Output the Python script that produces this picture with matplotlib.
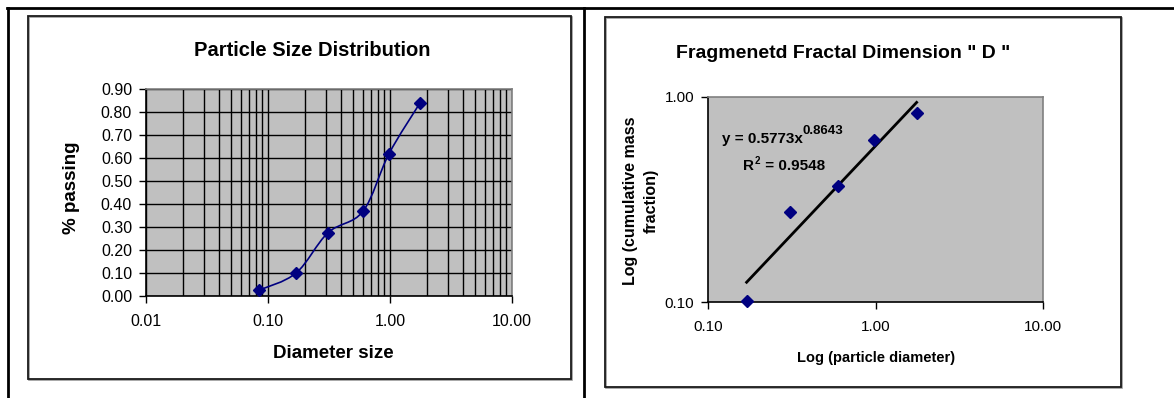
import numpy as np
import matplotlib
matplotlib.use("Agg")
import matplotlib.pyplot as plt
from matplotlib.path import Path
from matplotlib.patches import PathPatch, Rectangle
from matplotlib.lines import Line2D
from matplotlib.ticker import FixedLocator, FuncFormatter, NullFormatter

plt.rcParams['font.family'] = ['Liberation Sans', 'DejaVu Sans']

# particle size distribution
diameter = [0.085, 0.17, 0.31, 0.60, 0.98, 1.76]
passing = [0.026, 0.10, 0.275, 0.368, 0.618, 0.839]

# fractal dimension (log-log)
frac_diameter = [0.17, 0.31, 0.60, 0.98, 1.76]
frac_mass = [0.101, 0.275, 0.366, 0.618, 0.840]
fit_a = 0.5773
fit_b = 0.8643
fit_r2 = 0.9548

W, H = 1174, 398
fig = plt.figure(figsize=(W / 100, H / 100), dpi=100)
fig.patch.set_facecolor("white")


def fx(px):
    return px / W


def fy(py):
    return 1 - py / H


def box(x0, y0, x1, y1):
    # chart area frame with a faint shadow
    fig.add_artist(Rectangle((fx(x0) + 1 / W, fy(y1) - 1 / H), fx(x1) - fx(x0), fy(y0) - fy(y1),
                             transform=fig.transFigure, fill=False, edgecolor="#9a9a9a", lw=1.2))
    fig.add_artist(Rectangle((fx(x0), fy(y1)), fx(x1) - fx(x0), fy(y0) - fy(y1),
                             transform=fig.transFigure, fill=False, edgecolor="#1a1a1a", lw=1.3))


# page table lines
fig.add_artist(Line2D([fx(7), 1], [fy(8), fy(8)], transform=fig.transFigure, color="black", lw=2))
fig.add_artist(Line2D([fx(7.5), fx(7.5)], [fy(8), 0], transform=fig.transFigure, color="black", lw=2))
fig.add_artist(Line2D([fx(584), fx(584)], [fy(8), 0], transform=fig.transFigure, color="black", lw=2))

box(28, 16, 571, 379)
box(605, 17, 1121, 387)

fmt2 = FuncFormatter(lambda v, p: "%.2f" % v)


def style_axes(ax):
    ax.set_facecolor("#c0c0c0")
    for s in ["top", "right"]:
        ax.spines[s].set_color("#808080")
        ax.spines[s].set_linewidth(1.2)
    for s in ["left", "bottom"]:
        ax.spines[s].set_color("black")
        ax.spines[s].set_linewidth(1.2)


# ---- left chart ----
ax1 = fig.add_axes([fx(146), fy(296), fx(512) - fx(146), fy(89) - fy(296)])
style_axes(ax1)
ax1.set_xscale("log")
ax1.set_xlim(0.01, 10)
ax1.set_ylim(0, 0.9)
ax1.xaxis.set_major_locator(FixedLocator([0.01, 0.1, 1, 10]))
ax1.xaxis.set_major_formatter(fmt2)
ax1.xaxis.set_minor_formatter(NullFormatter())
ax1.set_yticks(np.arange(0, 0.91, 0.1))
ax1.yaxis.set_major_formatter(fmt2)
ax1.grid(True, which="both", axis="x", color="black", lw=1)
ax1.grid(True, which="major", axis="y", color="black", lw=1)
ax1.set_axisbelow(True)
ax1.tick_params(axis="x", which="major", direction="out", length=5, width=1, labelsize=11.5, pad=8)
ax1.tick_params(axis="x", which="minor", length=0)
ax1.tick_params(axis="y", direction="out", length=5, width=1, labelsize=11.5, pad=5)

# smoothed line (bezier through the points, in log-x space)
lx = np.log10(diameter)
py = np.array(passing)
pts = np.column_stack([lx, py])
ext = np.vstack([pts[0], pts, pts[-1]])
verts = [pts[0]]
codes = [Path.MOVETO]
for i in range(len(pts) - 1):
    p0, p1, p2, p3 = ext[i], ext[i + 1], ext[i + 2], ext[i + 3]
    c1 = p1 + (p2 - p0) / 6
    c2 = p2 - (p3 - p1) / 6
    verts += [c1, c2, p2]
    codes += [Path.CURVE4] * 3
verts = np.array(verts)
verts[:, 0] = 10 ** verts[:, 0]
ax1.add_patch(PathPatch(Path(verts, codes), facecolor="none", edgecolor="#000080", lw=1.2, zorder=3))
ax1.plot(diameter, passing, linestyle="none", marker="D", markersize=6.5,
         color="#000080", zorder=4, clip_on=False)

fig.text(fx(312), fy(51), "Particle Size Distribution", ha="center", va="center",
         fontsize=14.5, fontweight="bold")
fig.text(fx(71), fy(188), "% passing", ha="center", va="center", rotation=90,
         fontsize=13.5, fontweight="bold")
fig.text(fx(333), fy(353), "Diameter size", ha="center", va="center",
         fontsize=13.5, fontweight="bold")

# ---- right chart ----
ax2 = fig.add_axes([fx(708), fy(302), fx(1043) - fx(708), fy(97) - fy(302)])
style_axes(ax2)
ax2.set_xscale("log")
ax2.set_yscale("log")
ax2.set_xlim(0.1, 10)
ax2.set_ylim(0.1, 1)
ax2.xaxis.set_major_locator(FixedLocator([0.1, 1, 10]))
ax2.yaxis.set_major_locator(FixedLocator([0.1, 1]))
ax2.xaxis.set_major_formatter(fmt2)
ax2.yaxis.set_major_formatter(fmt2)
ax2.xaxis.set_minor_locator(FixedLocator([]))
ax2.yaxis.set_minor_locator(FixedLocator([]))
ax2.tick_params(axis="x", direction="out", length=5, width=1, labelsize=11, pad=8)
ax2.tick_params(axis="y", direction="out", length=5, width=1, labelsize=11, pad=5)

fit_x = np.array([frac_diameter[0], frac_diameter[-1]])
fit_xs = np.geomspace(fit_x[0], fit_x[1], 50)
ax2.plot(fit_xs, fit_a * fit_xs ** fit_b, color="black", lw=2, zorder=3)
ax2.plot(frac_diameter, frac_mass, linestyle="none", marker="D", markersize=6.5,
         color="#000080", zorder=4, clip_on=False)

eq = ax2.text(0.042, 0.795, "y = %.4fx" % fit_a, transform=ax2.transAxes,
              ha="left", va="center", fontsize=11, fontweight="bold")
ax2.annotate("%.4f" % fit_b, xy=(1, 1), xycoords=eq, xytext=(0, 5), textcoords="offset points",
             ha="left", va="top", fontsize=9.5, fontweight="bold")
r2 = ax2.text(0.104, 0.665, "R", transform=ax2.transAxes,
              ha="left", va="center", fontsize=11, fontweight="bold")
ax2.annotate("2", xy=(1, 1), xycoords=r2, xytext=(0.5, 2), textcoords="offset points",
             ha="left", va="top", fontsize=7, fontweight="bold")
ax2.annotate(" = %.4f" % fit_r2, xy=(1, 0.5), xycoords=r2, xytext=(5, 0), textcoords="offset points",
             ha="left", va="center", fontsize=11, fontweight="bold")

fig.text(fx(843), fy(53), 'Fragmenetd Fractal Dimension " D "', ha="center", va="center",
         fontsize=14, fontweight="bold")
fig.text(fx(641), fy(201), "Log (cumulative mass\nfraction)", ha="center", va="center",
         rotation=90, fontsize=11.5, fontweight="bold", linespacing=1.45)
fig.text(fx(876), fy(358), "Log (particle diameter)", ha="center", va="center",
         fontsize=10.5, fontweight="bold")

fig.savefig("out.png", dpi=100)
